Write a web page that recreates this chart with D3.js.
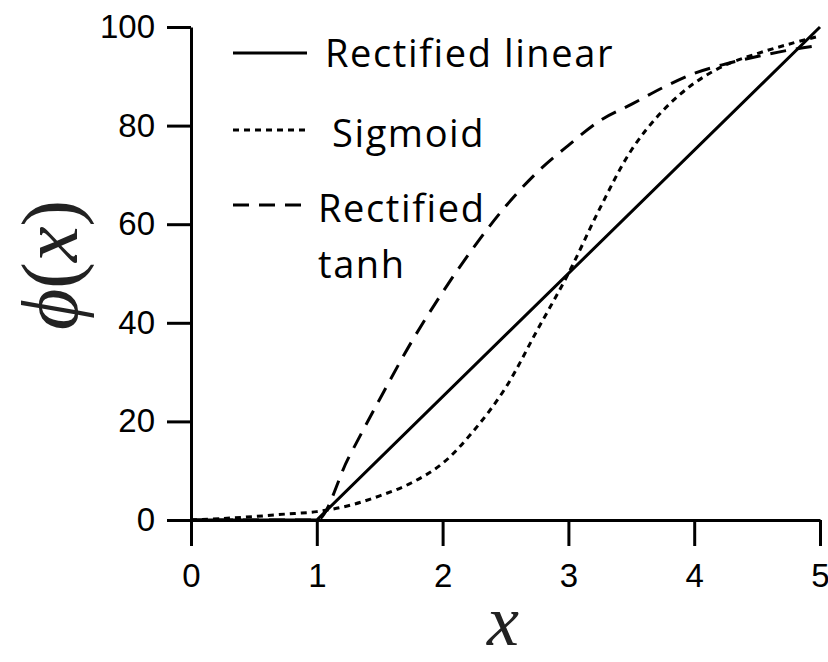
<!DOCTYPE html>
<html>
<head>
<meta charset="utf-8">
<script src="https://cdn.jsdelivr.net/npm/d3@7"></script>
<style>
  body { margin: 0; background: #fff; }
</style>
</head>
<body>
<div id="chart"></div>
<script>
// data
var reluX = [0, 1, 5];
var reluY = [0, 0, 100];

var sigX = [0, 0.25, 0.5, 0.75, 1, 1.25, 1.5, 1.75, 2, 2.25, 2.5, 2.75, 3, 3.25, 3.5, 3.75, 4, 4.25, 4.5, 4.75, 5];
var sigY = [0, 0.3, 0.7, 1.2, 1.7, 2.9, 4.9, 7.5, 11.5, 18.2, 26.8, 38.4, 50, 63.2, 75, 83, 88.6, 92.3, 94.6, 96.5, 98.2];

var tanhX = [0, 1, 1.25, 1.5, 1.75, 2, 2.25, 2.5, 2.75, 3, 3.25, 3.5, 3.75, 4, 4.25, 4.5, 4.75, 5];
var tanhY = [0, 0, 12.5, 24.5, 36, 46.2, 55.4, 63.6, 70.5, 76, 81, 84.3, 87.7, 90.6, 92.5, 94, 95.3, 96.3];

var xTicks = [0, 1, 2, 3, 4, 5];
var yTicks = [0, 20, 40, 60, 80, 100];

var legendLabels = [["Rectified linear"], ["Sigmoid"], ["Rectified", "tanh"]];

// set the dimensions and margins of the graph
var margin = {top: 27, right: 8, bottom: 142, left: 191},
    width = 828 - margin.left - margin.right,
    height = 662 - margin.top - margin.bottom;

var svg = d3.select("#chart")
  .append("svg")
    .attr("width", 828)
    .attr("height", 662);

var g = svg.append("g")
    .attr("transform", "translate(" + margin.left + "," + margin.top + ")");

var x = d3.scaleLinear().domain([0, 5]).range([0, width]);
var y = d3.scaleLinear().domain([0, 100]).range([height, 0]);

// axes
var xAxis = g.append("g")
    .attr("transform", "translate(0," + height + ")")
    .call(d3.axisBottom(x).tickValues(xTicks).tickFormat(d3.format("d"))
      .tickSize(26).tickSizeOuter(0).tickPadding(18));

var yAxis = g.append("g")
    .call(d3.axisLeft(y).tickValues(yTicks).tickFormat(d3.format("d"))
      .tickSize(24).tickSizeOuter(0).tickPadding(12));

[xAxis, yAxis].forEach(function(a) {
  a.select(".domain").attr("stroke", "#000").attr("stroke-width", 3);
  a.selectAll(".tick line").attr("stroke", "#000").attr("stroke-width", 3);
  a.selectAll(".tick text")
    .attr("fill", "#000")
    .style("font-family", "'Liberation Sans', Arial, sans-serif")
    .style("font-size", "33px");
});

// series
function zipXY(xs, ys) {
  return xs.map(function(v, i) { return [v, ys[i]]; });
}

var series = [
  {pts: zipXY(reluX, reluY), dash: null, curve: d3.curveLinear},
  {pts: zipXY(sigX, sigY), dash: "6,5", curve: d3.curveCatmullRom.alpha(0.5)},
  {pts: zipXY(tanhX, tanhY), dash: "16,10", curve: d3.curveMonotoneX}
];

series.forEach(function(s) {
  var line = d3.line()
    .x(function(d) { return x(d[0]); })
    .y(function(d) { return y(d[1]); })
    .curve(s.curve);
  g.append("path")
    .datum(s.pts)
    .attr("d", line)
    .attr("fill", "none")
    .attr("stroke", "#000")
    .attr("stroke-width", 3)
    .attr("stroke-dasharray", s.dash);
});

// legend (hand placed as in the original)
var legendRows = [
  {lineY: 53, textX: 325, textY: 67},
  {lineY: 130, textX: 332, textY: 147},
  {lineY: 205, textX: 318, textY: 222}
];

legendLabels.forEach(function(lbl, i) {
  var r = legendRows[i];
  svg.append("line")
    .attr("x1", 233).attr("x2", 307)
    .attr("y1", r.lineY).attr("y2", r.lineY)
    .attr("stroke", "#000")
    .attr("stroke-width", 3)
    .attr("stroke-dasharray", series[i].dash);
  var t = svg.append("text")
    .attr("x", r.textX)
    .attr("y", r.textY)
    .style("font-family", "'Open Sans', Lato, sans-serif")
    .style("font-size", "38px")
    .style("letter-spacing", "1.6px")
    .attr("fill", "#000");
  lbl.forEach(function(s, j) {
    t.append("tspan")
      .attr("x", r.textX)
      .attr("dy", j === 0 ? 0 : 56)
      .text(s);
  });
});

// axis labels
var yl = svg.append("text")
  .attr("transform", "translate(77,265) rotate(-90)")
  .attr("text-anchor", "middle")
  .style("font-family", "'Liberation Serif', 'DejaVu Serif', serif")
  .style("font-size", "80px")
  .attr("fill", "#222");
yl.append("tspan").style("font-style", "italic").text("\u03D5");
yl.append("tspan").text("(");
yl.append("tspan").style("font-style", "italic").text("x");
yl.append("tspan").text(")");

svg.append("text")
  .attr("x", 503)
  .attr("y", 645)
  .attr("text-anchor", "middle")
  .style("font-family", "'Liberation Serif', 'DejaVu Serif', serif")
  .style("font-style", "italic")
  .style("font-size", "72px")
  .attr("fill", "#222")
  .text("x");
</script>
</body>
</html>
